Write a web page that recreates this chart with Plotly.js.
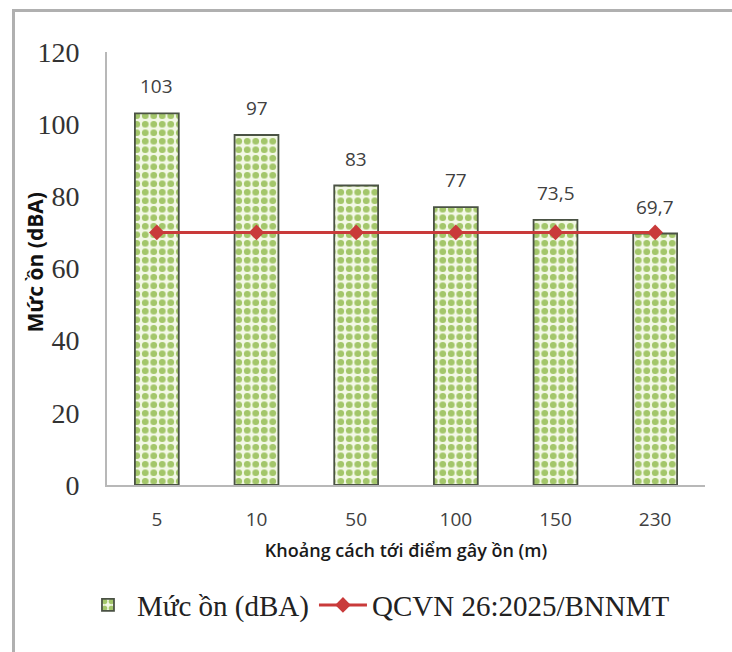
<!DOCTYPE html>
<html>
<head>
<meta charset="utf-8">
<script src="https://cdn.plot.ly/plotly-3.0.1.min.js"></script>
<style>
  html, body { margin: 0; padding: 0; background: #fff; }
  #wrap { position: relative; width: 732px; height: 652px; overflow: hidden; }
  #chart { width: 732px; height: 652px; }
  #frame { position: absolute; left: 12px; top: 9px; width: 740px; height: 660px;
           border-left: 3px solid #b0b0b0; border-top: 3px solid #b0b0b0; pointer-events: none; }
</style>
</head>
<body>
<div id="wrap">
  <div id="chart"></div>
  <div id="frame"></div>
</div>
<script>
const categories = ["5", "10", "50", "100", "150", "230"];
const noiseLevels = [103, 97, 83, 77, 73.5, 69.7];
const noiseLabels = ["103", "97", "83", "77", "73,5", "69,7"];
const standardLimit = [70, 70, 70, 70, 70, 70];
const yTicks = [0, 20, 40, 60, 80, 100, 120];

const sansFont = "Open Sans, Liberation Sans, sans-serif";
const serifFont = "Liberation Serif, Times New Roman, serif";

const barTrace = {
  type: "bar",
  name: "Mức ồn (dBA)",
  x: categories,
  y: noiseLevels,
  marker: {
    color: "#f3f8e6",
    line: { color: "#4a5244", width: 1.8 },
    pattern: { shape: ".", fgcolor: "#a3c66a", bgcolor: "#f3f8e6", size: 8.5, solidity: 0.5 }
  },
  hoverinfo: "skip"
};

const lineTrace = {
  type: "scatter",
  mode: "lines+markers",
  name: "QCVN 26:2025/BNNMT",
  x: categories,
  y: standardLimit,
  line: { color: "#c93a3a", width: 3 },
  marker: { symbol: "diamond", size: 12, color: "#c93a3a" },
  hoverinfo: "skip"
};

// category axis: annotation x given as category index
const valueAnnotations = categories.map((c, i) => ({
  x: i,
  y: noiseLevels[i],
  xref: "x",
  yref: "y",
  text: noiseLabels[i],
  showarrow: false,
  yanchor: "bottom",
  yshift: 12,
  font: { family: sansFont, size: 19, color: "#404040" }
}));

const yTitleAnnotation = {
  x: 0,
  y: 0.5,
  xref: "paper",
  yref: "paper",
  xanchor: "center",
  yanchor: "middle",
  xshift: -73,
  yshift: 6,
  textangle: -90,
  text: "Mức ồn (dBA)",
  showarrow: false,
  font: { family: sansFont, size: 21, color: "#111111", weight: 700 }
};

const layout = {
  width: 732,
  height: 652,
  margin: { l: 107, r: 27, t: 52, b: 167, autoexpand: false },
  paper_bgcolor: "#ffffff",
  plot_bgcolor: "#ffffff",
  showlegend: true,
  bargap: 0.56,
  xaxis: {
    type: "category",
    range: [-0.5, 5.5],
    showline: true,
    linecolor: "#b8b8b8",
    linewidth: 2,
    showgrid: false,
    ticks: "",
    tickfont: { family: sansFont, size: 19, color: "#404040" },
    ticklabelstandoff: 16,
    title: {
      text: "Khoảng cách tới điểm gây ồn (m)",
      font: { family: sansFont, size: 18, color: "#1a1a1a", weight: 600 },
      standoff: 14
    }
  },
  yaxis: {
    range: [0, 120],
    tickvals: yTicks,
    ticktext: yTicks.map(String),
    showline: true,
    linecolor: "#b8b8b8",
    linewidth: 2,
    showgrid: false,
    zeroline: false,
    ticks: "",
    tickfont: { family: serifFont, size: 28, color: "#333333" },
    ticklabelstandoff: 20
  },
  annotations: valueAnnotations.concat([yTitleAnnotation]),
  legend: {
    orientation: "h",
    xref: "container",
    yref: "container",
    x: 0.515,
    xanchor: "center",
    y: 0.072,
    yanchor: "middle",
    font: { family: serifFont, size: 29, color: "#222222" },
    itemwidth: 48
  }
};

Plotly.newPlot("chart", [barTrace, lineTrace], layout, { displayModeBar: false, staticPlot: true });
</script>
</body>
</html>
